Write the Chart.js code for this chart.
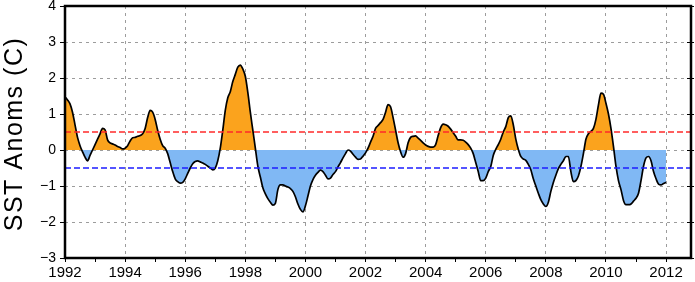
<!DOCTYPE html>
<html>
<head>
<meta charset="utf-8">
<script src="https://cdn.jsdelivr.net/npm/chart.js@4.4.1/dist/chart.umd.min.js"></script>
<style>
  html, body { margin: 0; padding: 0; background: #fff; }
</style>
</head>
<body>
<canvas id="chart-sst" width="695" height="282"></canvas>
<script>
// monthly SST anomalies, Jan 1992 .. Jan 2012 (one row per year)
const startYear = 1992;
const sstAnom = [
  1.48, 1.39, 1.28, 1.05, 0.70, 0.35, 0.12, -0.05, -0.20, -0.30, -0.15, 0.00,
  0.15, 0.30, 0.45, 0.60, 0.56, 0.28, 0.20, 0.17, 0.14, 0.10, 0.07, 0.03,
  0.05, 0.12, 0.25, 0.34, 0.35, 0.38, 0.40, 0.45, 0.60, 0.90, 1.10, 1.05,
  0.85, 0.55, 0.30, 0.12, 0.05, -0.10, -0.35, -0.60, -0.80, -0.88, -0.92, -0.90,
  -0.80, -0.65, -0.50, -0.38, -0.32, -0.30, -0.33, -0.36, -0.40, -0.45, -0.50, -0.55,
  -0.50, -0.30, 0.05, 0.55, 1.10, 1.45, 1.62, 1.90, 2.10, 2.30, 2.36, 2.25,
  2.05, 1.60, 1.05, 0.55, 0.05, -0.45, -0.75, -1.05, -1.22, -1.35, -1.45, -1.53,
  -1.48, -1.10, -0.97, -0.97, -1.00, -1.03, -1.07, -1.15, -1.30, -1.50, -1.65, -1.72,
  -1.55, -1.28, -1.00, -0.82, -0.70, -0.62, -0.56, -0.60, -0.70, -0.80, -0.78, -0.68,
  -0.60, -0.47, -0.35, -0.22, -0.10, 0.00, -0.03, -0.12, -0.20, -0.26, -0.25, -0.17,
  -0.08, 0.05, 0.22, 0.38, 0.60, 0.68, 0.76, 0.85, 1.05, 1.26, 1.20, 0.90,
  0.55, 0.20, -0.05, -0.20, -0.10, 0.20, 0.35, 0.38, 0.39, 0.33, 0.27, 0.20,
  0.14, 0.10, 0.08, 0.08, 0.15, 0.40, 0.62, 0.72, 0.70, 0.66, 0.58, 0.48,
  0.38, 0.28, 0.28, 0.27, 0.22, 0.15, 0.05, -0.10, -0.35, -0.60, -0.85, -0.85,
  -0.78, -0.60, -0.46, -0.15, 0.02, 0.15, 0.30, 0.50, 0.65, 0.90, 0.95, 0.70,
  0.30, 0.02, -0.18, -0.25, -0.29, -0.40, -0.55, -0.80, -1.00, -1.20, -1.38, -1.50,
  -1.57, -1.45, -1.15, -0.90, -0.70, -0.52, -0.40, -0.30, -0.18, -0.18, -0.60, -0.88,
  -0.85, -0.72, -0.46, -0.10, 0.30, 0.45, 0.52, 0.60, 0.85, 1.25, 1.58, 1.55,
  1.30, 1.00, 0.60, 0.10, -0.45, -0.85, -1.10, -1.40, -1.52, -1.52, -1.50, -1.42,
  -1.34, -1.20, -0.85, -0.45, -0.22, -0.18, -0.30, -0.60, -0.80, -0.95, -0.97, -0.93,
  -0.90
];
const yearTicks = [1992, 1993, 1994, 1995, 1996, 1997, 1998, 1999, 2000, 2001, 2002,
  2003, 2004, 2005, 2006, 2007, 2008, 2009, 2010, 2011, 2012];
const anomTicks = [-3, -2, -1, 0, 1, 2, 3, 4];
const warmLine = 0.5;
const coldLine = -0.5;

const xMin = 1992;
const xMax = 2012.83;

const points = sstAnom.map((v, i) => ({ x: startYear + i / 12, y: v }));

const framePlugin = {
  id: "frame",
  afterDraw: function (chart) {
    const ctx = chart.ctx;
    const a = chart.chartArea;
    const yScale = chart.scales.y;
    ctx.save();
    // right-side tick marks
    ctx.strokeStyle = "#000";
    ctx.lineWidth = 1;
    anomTicks.forEach((v) => {
      const py = Math.round(yScale.getPixelForValue(v)) + 0.5;
      ctx.beginPath();
      ctx.moveTo(a.right - 4, py);
      ctx.lineTo(a.right + 3, py);
      ctx.stroke();
    });
    ctx.lineWidth = 2.5;
    ctx.strokeRect(a.left, a.top, a.right - a.left, a.bottom - a.top);
    // y title
    ctx.translate(15, 134);
    ctx.rotate(-Math.PI / 2);
    ctx.fillStyle = "#000";
    ctx.font = '25px "Liberation Sans", Arial, sans-serif';
    ctx.letterSpacing = "1.5px";
    ctx.textAlign = "center";
    ctx.textBaseline = "middle";
    ctx.fillText("SST Anoms (C)", 0, 0);
    ctx.restore();
  },
};

const ctxSst = document.getElementById("chart-sst").getContext("2d");

const chartSst = new Chart(ctxSst, {
  type: "line",
  data: {
    datasets: [
      {
        data: points,
        borderColor: "#000000",
        borderWidth: 1.7,
        pointRadius: 0,
        cubicInterpolationMode: "monotone",
        fill: { target: "origin", above: "#fba31d", below: "#80b8f4" },
        order: 2,
      },
      {
        data: [{ x: xMin, y: warmLine }, { x: xMax, y: warmLine }],
        borderColor: "#ff2a2a",
        borderWidth: 1.3,
        borderDash: [6, 3],
        pointRadius: 0,
        fill: false,
        order: 1,
      },
      {
        data: [{ x: xMin, y: coldLine }, { x: xMax, y: coldLine }],
        borderColor: "#1c1cff",
        borderWidth: 1.3,
        borderDash: [6, 3],
        pointRadius: 0,
        fill: false,
        order: 1,
      },
    ],
  },
  options: {
    responsive: false,
    animation: false,
    layout: {
      padding: { top: 0, right: 4, left: 0, bottom: 0 },
    },
    plugins: {
      legend: { display: false },
      tooltip: { enabled: false },
    },
    scales: {
      x: {
        type: "linear",
        min: xMin,
        max: xMax,
        afterBuildTicks: function (scale) {
          scale.ticks = yearTicks.map((v) => ({ value: v }));
        },
        afterFit: function (scale) {
          scale.height = 24;
        },
        ticks: {
          autoSkip: false,
          maxRotation: 0,
          padding: 2,
          color: "#000",
          font: { family: '"Liberation Sans", Arial, sans-serif', size: 15 },
          callback: function (v) {
            return v % 2 === 0 ? String(v) : "";
          },
        },
        grid: {
          color: function (c) {
            const v = c.tick && c.tick.value;
            return v % 2 === 0 && v !== xMin ? "#9c9c9c" : "rgba(0,0,0,0)";
          },
          tickColor: "#000",
          tickLength: 4,
          lineWidth: 1,
        },
        border: { display: false, dash: [3, 4] },
      },
      y: {
        type: "linear",
        min: -3,
        max: 4,
        afterBuildTicks: function (scale) {
          scale.ticks = anomTicks.map((v) => ({ value: v }));
        },
        afterFit: function (scale) {
          scale.width = 65;
          scale.paddingTop = 6;
          scale.paddingBottom = 0;
        },
        ticks: {
          padding: 4,
          color: "#000",
          font: { family: '"Liberation Sans", Arial, sans-serif', size: 14 },
          callback: function (v) {
            return v < 0 ? "\u2212" + Math.abs(v) : String(v);
          },
        },
        grid: {
          color: function (c) {
            const v = c.tick && c.tick.value;
            return v === -3 || v === 4 ? "rgba(0,0,0,0)" : "#9c9c9c";
          },
          tickColor: "#000",
          tickLength: 5,
          lineWidth: 1,
        },
        border: { display: false, dash: [3, 4] },
      },
    },
  },
  plugins: [framePlugin],
});
</script>
</body>
</html>
